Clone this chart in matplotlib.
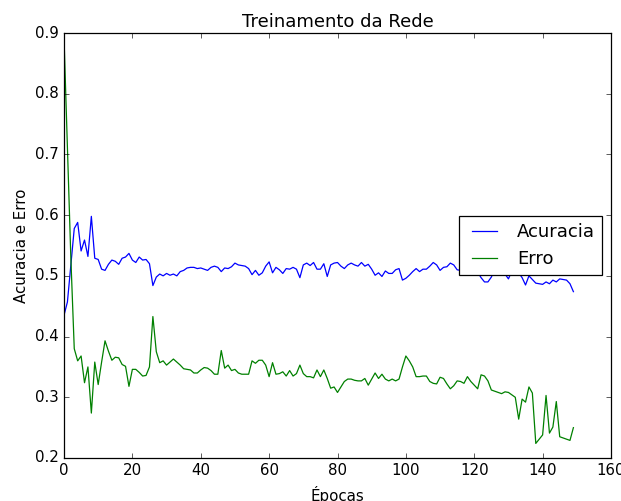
import matplotlib
matplotlib.use("Agg")
import matplotlib.pyplot as plt
import numpy as np

plt.style.use("classic")

title = "Treinamento da Rede"
xlabel = "Épocas"
ylabel = "Acuracia e Erro"
labels = ["Acuracia", "Erro"]

acuracia = [
    0.435, 0.457, 0.518, 0.578, 0.588, 0.541, 0.559, 0.532, 0.598, 0.529,
    0.527, 0.511, 0.509, 0.519, 0.526, 0.524, 0.519, 0.529, 0.531, 0.537,
    0.526, 0.522, 0.531, 0.526, 0.527, 0.520, 0.484, 0.498, 0.503, 0.500,
    0.504, 0.501, 0.503, 0.500, 0.507, 0.509, 0.513, 0.514, 0.514, 0.512,
    0.513, 0.511, 0.509, 0.514, 0.516, 0.514, 0.507, 0.513, 0.512, 0.515,
    0.521, 0.518, 0.517, 0.516, 0.512, 0.502, 0.509, 0.501, 0.505, 0.516,
    0.523, 0.505, 0.514, 0.510, 0.504, 0.512, 0.511, 0.514, 0.511, 0.497,
    0.518, 0.521, 0.517, 0.522, 0.511, 0.511, 0.520, 0.499, 0.518, 0.521,
    0.522, 0.516, 0.512, 0.518, 0.521, 0.518, 0.516, 0.522, 0.516, 0.519,
    0.511, 0.501, 0.505, 0.499, 0.508, 0.504, 0.504, 0.510, 0.512, 0.493,
    0.496, 0.501, 0.507, 0.512, 0.507, 0.511, 0.511, 0.516, 0.522, 0.518,
    0.509, 0.514, 0.515, 0.521, 0.518, 0.510, 0.509, 0.512, 0.514, 0.511,
    0.510, 0.506, 0.497, 0.490, 0.490, 0.498, 0.510, 0.513, 0.508, 0.503,
    0.495, 0.508, 0.512, 0.505, 0.497, 0.485, 0.500, 0.494, 0.488, 0.487,
    0.486, 0.490, 0.487, 0.493, 0.490, 0.495, 0.494, 0.493, 0.487, 0.474,
]

erro = [
    0.893, 0.710, 0.530, 0.380, 0.360, 0.368, 0.324, 0.350, 0.274, 0.358,
    0.321, 0.358, 0.393, 0.376, 0.361, 0.366, 0.365, 0.354, 0.351, 0.318,
    0.346, 0.346, 0.341, 0.335, 0.336, 0.350, 0.433, 0.375, 0.357, 0.360,
    0.353, 0.358, 0.363, 0.358, 0.353, 0.347, 0.346, 0.345, 0.340, 0.340,
    0.345, 0.349, 0.348, 0.344, 0.338, 0.338, 0.377, 0.348, 0.353, 0.344,
    0.346, 0.340, 0.338, 0.338, 0.338, 0.360, 0.356, 0.361, 0.361, 0.353,
    0.334, 0.357, 0.338, 0.339, 0.342, 0.335, 0.344, 0.335, 0.339, 0.353,
    0.339, 0.334, 0.334, 0.332, 0.345, 0.334, 0.345, 0.331, 0.315, 0.317,
    0.308, 0.317, 0.326, 0.330, 0.330, 0.328, 0.327, 0.327, 0.331, 0.320,
    0.330, 0.340, 0.331, 0.338, 0.330, 0.327, 0.330, 0.327, 0.330, 0.350,
    0.368, 0.360, 0.350, 0.334, 0.334, 0.335, 0.335, 0.326, 0.323, 0.322,
    0.333, 0.331, 0.322, 0.314, 0.319, 0.327, 0.326, 0.323, 0.334, 0.326,
    0.320, 0.314, 0.337, 0.335, 0.327, 0.312, 0.310, 0.308, 0.306, 0.309,
    0.308, 0.304, 0.300, 0.264, 0.297, 0.292, 0.317, 0.307, 0.224, 0.231,
    0.238, 0.303, 0.241, 0.251, 0.293, 0.235, 0.233, 0.231, 0.229, 0.250,
]

epocas = np.arange(len(acuracia))

W, H, DPI = 621, 501, 90
fig = plt.figure(figsize=(W / DPI, H / DPI), dpi=DPI, facecolor="white")
ax = fig.add_axes([64 / W, 43 / H, 547 / W, 425 / H])

ax.plot(epocas, acuracia, color="b", label=labels[0])
ax.plot(epocas, erro, color="g", label=labels[1])

ax.set_xlim(0, 160)
ax.set_ylim(0.2, 0.9)
ax.set_title(title)
ax.set_xlabel(xlabel, labelpad=6.5)
ax.set_ylabel(ylabel)
ax.legend(loc="center right")

fig.savefig("out.png", dpi=DPI, facecolor="white")
